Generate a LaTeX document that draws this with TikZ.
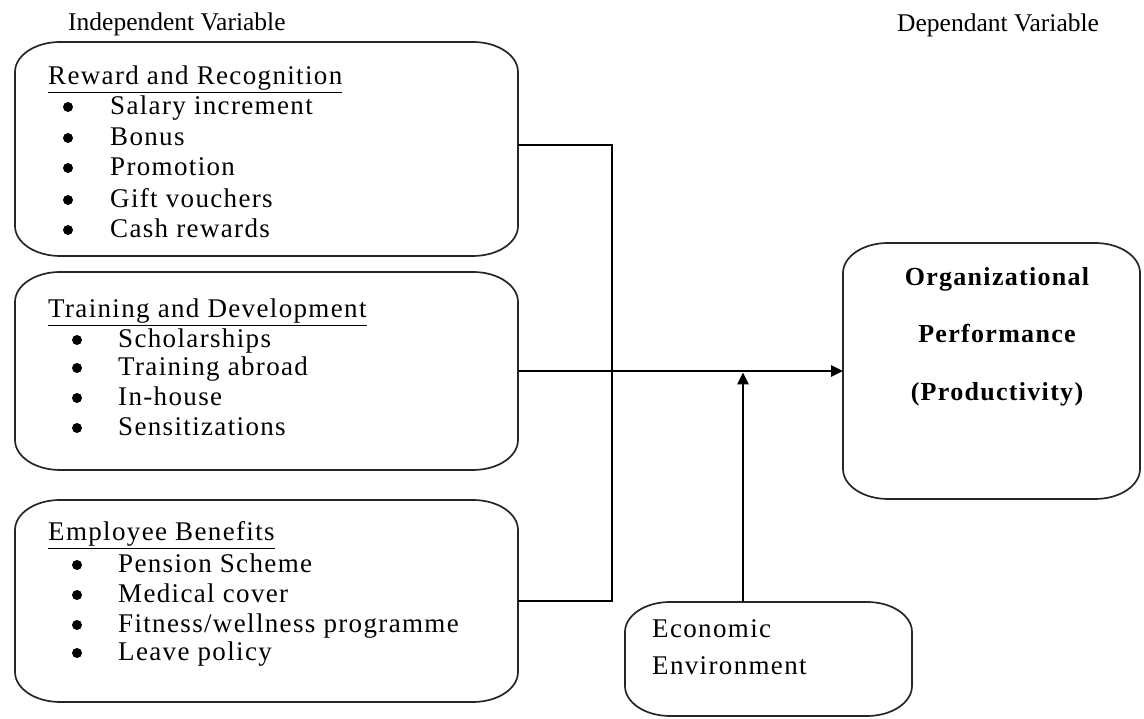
\documentclass[tikz,border=0pt]{standalone}
\usepackage{fontspec}
\setmainfont{Liberation Serif}
\newfontfamily\boxfont[LetterSpace=5]{Liberation Serif}
\usetikzlibrary{arrows.meta}
\tikzset{
  boxarea/.style={draw=none, inner sep=0pt, outer sep=0pt},
  boxline/.style={line width=1.7pt, black!85},
  conn/.style={line width=2.6pt, black},
  arr/.style={conn, -{Triangle[length=12pt,width=11pt]}},
  toplabel/.style={anchor=west, inner sep=0pt, font=\fontsize{25.5}{30}\selectfont},
  txt/.style={anchor=west, inner sep=0pt, text height=17pt, text depth=1pt,
              font=\boxfont\fontsize{27}{30}\selectfont},
  head/.style={txt},
  item/.style={txt},
  bul/.style={circle, fill=black, inner sep=0pt, minimum size=10pt},
  bold/.style={inner sep=0pt, text height=17pt, text depth=1pt,
               font=\boxfont\bfseries\fontsize{26}{30}\selectfont},
}
\newcommand\ellbox[1]{%
  \draw[boxline] ([xshift=45pt]#1.north west) -- ([xshift=-45pt]#1.north east)
    arc[start angle=90,end angle=0,x radius=45pt,y radius=30pt]
    -- ([yshift=30pt]#1.south east)
    arc[start angle=0,end angle=-90,x radius=45pt,y radius=30pt]
    -- ([xshift=45pt]#1.south west)
    arc[start angle=270,end angle=180,x radius=45pt,y radius=30pt]
    -- ([yshift=-30pt]#1.north west)
    arc[start angle=180,end angle=90,x radius=45pt,y radius=30pt] -- cycle;}
\begin{document}
\begin{tikzpicture}[x=1pt,y=1pt]
\useasboundingbox (0,0) rectangle (1144,719);

% top labels
\node[toplabel] (indep) at (68,695) {Independent Variable};
\node[toplabel] (dep) at (897,694) {Dependant Variable};

% boxes
\node[boxarea, minimum width=503pt, minimum height=214pt] (b1) at (266.5,570) {};
\node[boxarea, minimum width=503pt, minimum height=198pt] (b2) at (266.5,348) {};
\node[boxarea, minimum width=503pt, minimum height=202pt] (b3) at (266.5,118) {};
\node[boxarea, minimum width=297pt, minimum height=256pt] (org) at (991.5,348) {};
\node[boxarea, minimum width=287pt, minimum height=114pt] (econ) at (768.5,60) {};
\ellbox{b1}\ellbox{b2}\ellbox{b3}\ellbox{org}\ellbox{econ}

% box 1
\node[head] (h1) at (48,642) {\underline{Reward and Recognition}};
\node[bul] (p11) at (68,612) {}; \node[item] (t11) at (110,612) {Salary increment};
\node[bul] (p12) at (68,581) {}; \node[item] (t12) at (110,581) {Bonus};
\node[bul] (p13) at (68,551) {}; \node[item] (t13) at (110,551) {Promotion};
\node[bul] (p14) at (68,519) {}; \node[item] (t14) at (110,519) {Gift vouchers};
\node[bul] (p15) at (68,489) {}; \node[item] (t15) at (110,489) {Cash rewards};

% box 2
\node[head] (h2) at (48,409) {\underline{Training and Development}};
\node[bul] (p21) at (77,379) {}; \node[item] (t21) at (118,379) {Scholarships};
\node[bul] (p22) at (77,351) {}; \node[item] (t22) at (118,351) {Training abroad};
\node[bul] (p23) at (77,321) {}; \node[item] (t23) at (118,321) {In-house};
\node[bul] (p24) at (77,291) {}; \node[item] (t24) at (118,291) {Sensitizations};

% box 3
\node[head] (h3) at (48,186) {\underline{Employee Benefits}};
\node[bul] (p31) at (77,154) {}; \node[item] (t31) at (118,154) {Pension Scheme};
\node[bul] (p32) at (77,124) {}; \node[item] (t32) at (118,124) {Medical cover};
\node[bul] (p33) at (77,94) {};  \node[item] (t33) at (118,94) {Fitness/wellness programme};
\node[bul] (p34) at (77,66) {};  \node[item] (t34) at (118,66) {Leave policy};

% organizational performance
\node[bold] (o1) at (997,441) {Organizational};
\node[bold] (o2) at (997,384) {Performance};
\node[bold] (o3) at (997,326) {(Productivity)};

% economic environment
\node[item] (e1) at (652,89) {Economic};
\node[item] (e2) at (652,52) {Environment};

% connectors
\coordinate (j) at (612,348);
\coordinate (up) at (743,60);
\draw[conn] ([yshift=4pt]b1.east) -| (j);
\draw[conn] (b3.east) -| (j);
\draw[arr] (b2.east) -- (org.west);
\draw[arr, shorten >=1.5pt] (up |- econ.north) -- (up |- b2.east);
\end{tikzpicture}
\end{document}
